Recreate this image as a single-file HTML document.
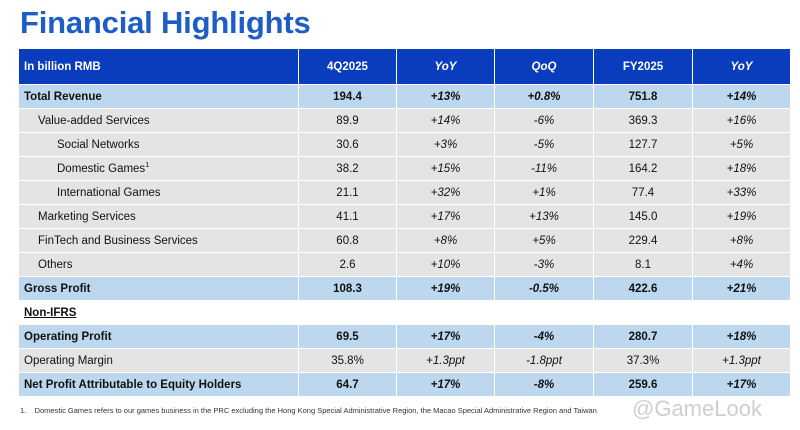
<!DOCTYPE html>
<html><head><meta charset="utf-8"><style>
body{margin:0;width:800px;height:430px;background:#fff;font-family:"Liberation Sans",Arial,sans-serif;position:relative;overflow:hidden}
#title{position:absolute;left:20px;top:5px;font-size:31px;font-weight:bold;color:#1e5cc6;letter-spacing:-0.2px}
table{position:absolute;left:18px;top:48px;border-collapse:collapse;table-layout:fixed;width:772px}
td{border:1px solid #fff;font-size:11.5px;color:#111;text-align:center;padding:0;height:23px}
td:first-child{text-align:left;padding-left:5px}
tr.h td{background:#0a3cbe;color:#fff;font-weight:bold;height:35px}
tr.b td{background:#bdd7ee;font-weight:bold}
tr.g td{background:#e4e4e4}
tr.n td{background:#fff;font-weight:bold;text-decoration:underline}
tr.n td:not(:first-child){text-decoration:none}
tr td:nth-child(3),tr td:nth-child(4),tr td:nth-child(6){font-style:italic}
.i1{padding-left:19px!important}.i2{padding-left:38px!important}
#foot{position:absolute;left:20px;top:406px;font-size:7.5px;color:#333}
#wm{position:absolute;left:632px;top:396px;font-size:22px;color:#cfcfcf;text-shadow:0 0 1px #fff}
</style></head><body>
<div id="title">Financial Highlights</div>
<table>
<colgroup><col style="width:280px"><col style="width:98px"><col style="width:98px"><col style="width:99px"><col style="width:99px"><col style="width:98px"></colgroup>
<tr class="h"><td>In billion RMB</td><td>4Q2025</td><td>YoY</td><td>QoQ</td><td>FY2025</td><td>YoY</td></tr>
<tr class="b"><td>Total Revenue</td><td>194.4</td><td>+13%</td><td>+0.8%</td><td>751.8</td><td>+14%</td></tr>
<tr class="g"><td class="i1">Value-added Services</td><td>89.9</td><td>+14%</td><td>-6%</td><td>369.3</td><td>+16%</td></tr>
<tr class="g"><td class="i2">Social Networks</td><td>30.6</td><td>+3%</td><td>-5%</td><td>127.7</td><td>+5%</td></tr>
<tr class="g"><td class="i2">Domestic Games<sup style="font-size:7px">1</sup></td><td>38.2</td><td>+15%</td><td>-11%</td><td>164.2</td><td>+18%</td></tr>
<tr class="g"><td class="i2">International Games</td><td>21.1</td><td>+32%</td><td>+1%</td><td>77.4</td><td>+33%</td></tr>
<tr class="g"><td class="i1">Marketing Services</td><td>41.1</td><td>+17%</td><td>+13%</td><td>145.0</td><td>+19%</td></tr>
<tr class="g"><td class="i1">FinTech and Business Services</td><td>60.8</td><td>+8%</td><td>+5%</td><td>229.4</td><td>+8%</td></tr>
<tr class="g"><td class="i1">Others</td><td>2.6</td><td>+10%</td><td>-3%</td><td>8.1</td><td>+4%</td></tr>
<tr class="b"><td>Gross Profit</td><td>108.3</td><td>+19%</td><td>-0.5%</td><td>422.6</td><td>+21%</td></tr>
<tr class="n"><td>Non-IFRS</td><td></td><td></td><td></td><td></td><td></td></tr>
<tr class="b"><td>Operating Profit</td><td>69.5</td><td>+17%</td><td>-4%</td><td>280.7</td><td>+18%</td></tr>
<tr class="g"><td>Operating Margin</td><td>35.8%</td><td>+1.3ppt</td><td>-1.8ppt</td><td>37.3%</td><td>+1.3ppt</td></tr>
<tr class="b"><td>Net Profit Attributable to Equity Holders</td><td>64.7</td><td>+17%</td><td>-8%</td><td>259.6</td><td>+17%</td></tr>
</table>
<div id="foot">1.&nbsp;&nbsp;&nbsp;&nbsp;Domestic Games refers to our games business in the PRC excluding the Hong Kong Special Administrative Region, the Macao Special Administrative Region and Taiwan</div>
<div id="wm">@GameLook</div>
</body></html>
